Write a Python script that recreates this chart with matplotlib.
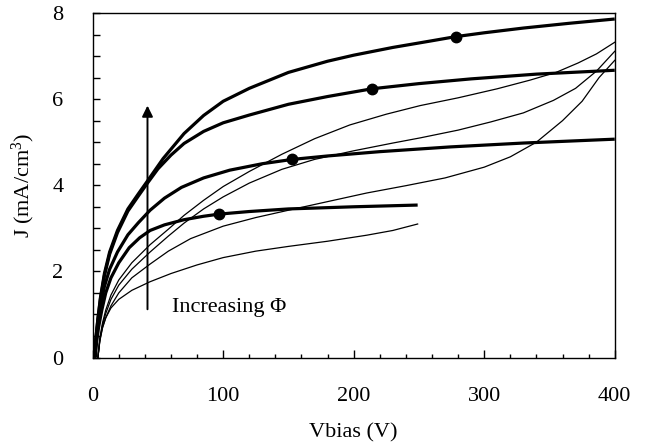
import matplotlib
matplotlib.use("Agg")
import matplotlib.pyplot as plt
from matplotlib.ticker import MultipleLocator

plt.rcParams['font.family'] = ['Liberation Serif', 'DejaVu Serif']
plt.rcParams['mathtext.fontset'] = 'custom'
plt.rcParams['mathtext.rm'] = 'Liberation Serif'
plt.rcParams['mathtext.it'] = 'Liberation Serif:italic'

# ---- thick curves (with marked points) ----
t1_v = [1.5, 2.5, 4, 6, 9, 13, 19, 27, 35, 42, 54, 70, 85, 100, 120, 150, 180, 200, 230, 259, 278, 300, 330, 365, 400]
t1_j = [0.0, 0.45, 0.9, 1.4, 1.95, 2.45, 2.95, 3.45, 3.8, 4.1, 4.62, 5.2, 5.62, 5.95, 6.25, 6.62, 6.88, 7.02, 7.2, 7.35, 7.45, 7.54, 7.65, 7.76, 7.86]
t2_v = [1.5, 2.5, 4, 6, 9, 13, 19, 27, 35, 42, 50, 60, 70, 85, 100, 120, 150, 180, 214, 250, 290, 340, 400]
t2_j = [0.0, 0.45, 0.88, 1.37, 1.9, 2.4, 2.9, 3.4, 3.75, 4.05, 4.38, 4.7, 4.97, 5.25, 5.45, 5.63, 5.88, 6.06, 6.24, 6.36, 6.47, 6.58, 6.67]
t3_v = [1.5, 2.5, 4, 6, 9, 13, 19, 27, 35, 44, 55, 68, 85, 105, 130, 153, 180, 220, 274, 330, 400]
t3_j = [0.0, 0.4, 0.8, 1.2, 1.65, 2.05, 2.45, 2.85, 3.13, 3.42, 3.7, 3.95, 4.17, 4.35, 4.5, 4.6, 4.68, 4.78, 4.89, 4.98, 5.07]
t4_v = [2, 3, 4.5, 7, 10, 14, 20, 28, 36, 44, 55, 70, 85, 97, 120, 150, 200, 249]
t4_j = [0.0, 0.35, 0.7, 1.1, 1.5, 1.85, 2.2, 2.55, 2.78, 2.95, 3.08, 3.2, 3.28, 3.33, 3.39, 3.45, 3.5, 3.54]
dot_v = [278, 214, 153, 97]
dot_j = [7.45, 6.24, 4.6, 3.33]

# ---- thin curves ----
ta_v = [4, 5.5, 7.5, 10, 14, 20, 30, 44, 60, 80, 100, 125, 150, 180, 210, 230, 249]
ta_j = [0.0, 0.4, 0.7, 0.92, 1.15, 1.35, 1.56, 1.76, 1.95, 2.15, 2.32, 2.47, 2.58, 2.7, 2.84, 2.95, 3.10]
tb_v = [4, 5.5, 7.5, 10, 14, 20, 30, 44, 58, 70, 85, 100, 120, 145, 170, 197, 225, 251, 280, 310, 335, 355, 372, 386, 400]
tb_j = [0.0, 0.45, 0.8, 1.1, 1.45, 1.8, 2.2, 2.62, 2.98, 3.3, 3.65, 3.97, 4.32, 4.72, 5.08, 5.4, 5.65, 5.85, 6.03, 6.24, 6.44, 6.62, 6.84, 7.05, 7.32]
tc_v = [4, 5.5, 7.5, 10, 14, 20, 30, 44, 58, 70, 85, 100, 120, 145, 170, 200, 230, 251, 280, 305, 330, 353, 370, 386, 400]
tc_j = [0.0, 0.42, 0.75, 1.02, 1.35, 1.68, 2.05, 2.45, 2.82, 3.12, 3.45, 3.73, 4.05, 4.37, 4.6, 4.8, 4.98, 5.1, 5.28, 5.47, 5.68, 5.97, 6.25, 6.65, 7.11]
td_v = [4, 5.5, 7.5, 10, 14, 20, 30, 44, 58, 75, 100, 125, 150, 180, 210, 240, 270, 300, 320, 340, 360, 375, 388, 400]
td_j = [0.0, 0.38, 0.68, 0.92, 1.2, 1.5, 1.85, 2.17, 2.47, 2.76, 3.05, 3.25, 3.42, 3.62, 3.82, 3.99, 4.17, 4.42, 4.66, 5.0, 5.5, 5.95, 6.5, 6.90]

x_ticks = [0, 100, 200, 300, 400]
y_ticks = [0, 2, 4, 6, 8]

fig = plt.figure(figsize=(6.61, 4.46), dpi=100)
ax = fig.add_axes([0.1402, 0.1984, 0.7898, 0.7725])

for v, j in [(t1_v, t1_j), (t2_v, t2_j), (t3_v, t3_j), (t4_v, t4_j)]:
    ax.plot(v, j, color='black', lw=2.3, solid_joinstyle='round', solid_capstyle='butt')
for v, j in [(ta_v, ta_j), (tb_v, tb_j), (tc_v, tc_j), (td_v, td_j)]:
    ax.plot(v, j, color='black', lw=0.9, solid_joinstyle='round')
ax.plot(dot_v, dot_j, 'o', color='black', ms=7.5, zorder=5)

ax.annotate('', xy=(42, 5.85), xytext=(42, 1.12),
            arrowprops=dict(arrowstyle='-|>,head_length=0.65,head_width=0.32',
                            color='black', lw=1.4, shrinkA=0, shrinkB=0))
ax.text(61, 1.15, 'Increasing Φ', fontsize=16, ha='left', va='center')

ax.set_xlim(0, 400)
ax.set_ylim(0, 8)
ax.set_xticks(x_ticks)
ax.set_yticks(y_ticks)
ax.xaxis.set_minor_locator(MultipleLocator(20))
ax.yaxis.set_minor_locator(MultipleLocator(0.5))
ax.tick_params(which='both', direction='in', top=False, right=False, width=1.0)
ax.tick_params(which='major', length=5.5, labelsize=16, pad=21)
ax.tick_params(which='minor', length=3.2)
ax.tick_params(axis='y', which='major', length=4.8)
ax.tick_params(axis='y', which='minor', length=4.8)
for s in ax.spines.values():
    s.set_linewidth(1.0)
    s.set_color('black')

ax.set_xlabel('Vbias (V)', fontsize=16)
ax.xaxis.set_label_coords(0.5, -0.19)
ax.set_ylabel('J (mA/cm$^3$)', fontsize=16)
ax.yaxis.set_label_coords(-0.107, 0.5)

fig.savefig('out.png', dpi=100)
